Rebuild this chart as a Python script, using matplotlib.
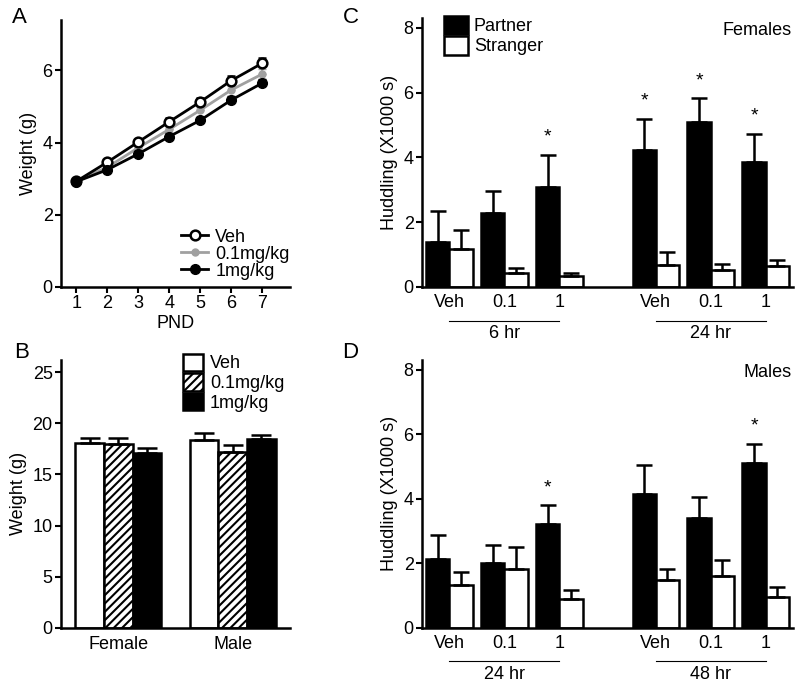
import numpy as np
import matplotlib
matplotlib.use('Agg')
import matplotlib.pyplot as plt
from matplotlib.transforms import blended_transform_factory

plt.rcParams['font.family'] = ['Liberation Sans', 'DejaVu Sans']
plt.rcParams['font.size'] = 13
plt.rcParams['hatch.linewidth'] = 1.5

# ---- Panel A: weight by PND ----
pnd = [1, 2, 3, 4, 5, 6, 7]
veh_w = [2.93, 3.46, 4.02, 4.58, 5.13, 5.72, 6.20]
low_w = [2.93, 3.32, 3.86, 4.37, 4.90, 5.46, 5.90]
high_w = [2.92, 3.25, 3.69, 4.17, 4.62, 5.18, 5.65]
veh_w_err = [0.04, 0.06, 0.08, 0.09, 0.10, 0.12, 0.15]
low_w_err = [0.04, 0.06, 0.08, 0.09, 0.10, 0.12, 0.13]
high_w_err = [0.04, 0.06, 0.08, 0.09, 0.10, 0.11, 0.12]

# ---- Panel B: adult weight ----
sexes = ['Female', 'Male']
b_veh = [18.1, 18.4]
b_low = [18.0, 17.2]
b_high = [17.1, 18.5]
b_veh_err = [0.5, 0.7]
b_low_err = [0.6, 0.7]
b_high_err = [0.5, 0.4]

# ---- Panels C/D: huddling ----
dose_labels = ['Veh', '0.1', '1', 'Veh', '0.1', '1']
pair_pos = [0, 1, 2, 3.75, 4.75, 5.75]

c_partner = [1.38, 2.28, 3.10, 4.23, 5.08, 3.85]
c_partner_err = [0.95, 0.68, 0.98, 0.96, 0.74, 0.87]
c_stranger = [1.17, 0.42, 0.33, 0.68, 0.52, 0.65]
c_stranger_err = [0.60, 0.18, 0.09, 0.41, 0.19, 0.17]
c_stars = [2, 3, 4, 5]
c_time = ['6 hr', '24 hr']

d_partner = [2.15, 2.02, 3.23, 4.15, 3.40, 5.11]
d_partner_err = [0.74, 0.56, 0.57, 0.90, 0.67, 0.59]
d_stranger = [1.32, 1.82, 0.89, 1.48, 1.60, 0.96]
d_stranger_err = [0.41, 0.68, 0.28, 0.34, 0.52, 0.30]
d_stars = [2, 5]
d_time = ['24 hr', '48 hr']

fig = plt.figure(figsize=(8, 6.91), dpi=100)

def style_axes(ax):
    for s in ['top', 'right']:
        ax.spines[s].set_visible(False)
    for s in ['left', 'bottom']:
        ax.spines[s].set_linewidth(1.8)
    ax.tick_params(direction='out', length=4, width=1.5, labelsize=13, pad=2)

# Panel A
axA = fig.add_axes([0.07625, 0.5847, 0.2863, 0.3864])
style_axes(axA)
axA.errorbar(pnd, veh_w, yerr=[np.zeros(7), veh_w_err], color='black', lw=2,
             marker='o', ms=7, mfc='white', mec='black', mew=1.8, capsize=3,
             elinewidth=1.5, label='Veh', zorder=3)
axA.errorbar(pnd, low_w, yerr=[np.zeros(7), low_w_err], color='#a0a0a0', lw=2,
             marker='o', ms=5, mfc='#a0a0a0', mec='#a0a0a0', capsize=3,
             elinewidth=1.5, label='0.1mg/kg', zorder=2)
axA.errorbar(pnd, high_w, yerr=[np.zeros(7), high_w_err], color='black', lw=2,
             marker='o', ms=7, mfc='black', mec='black', capsize=3,
             elinewidth=1.5, label='1mg/kg', zorder=4)
axA.set_xlim(0.5, 7.9)
axA.set_ylim(0, 7.4)
axA.set_xticks(pnd)
axA.set_yticks([0, 2, 4, 6])
axA.set_xlabel('PND', fontsize=13, labelpad=2)
axA.set_ylabel('Weight (g)', fontsize=13)
handles, labels = axA.get_legend_handles_labels()
axA.legend([h[0] for h in handles], labels, loc='lower right', frameon=False,
           fontsize=13, handlelength=1.5, handletextpad=0.4, labelspacing=0.0,
           borderaxespad=0.0, bbox_to_anchor=(1.03, 0.0))

# Panel B
axB = fig.add_axes([0.07625, 0.0912, 0.2863, 0.388])
style_axes(axB)
xb = np.arange(len(sexes))
w = 0.25
axB.bar(xb - w, b_veh, w, color='white', edgecolor='black', lw=1.8, label='Veh')
axB.bar(xb, b_low, w, color='white', edgecolor='black', lw=1.8, hatch='////',
        label='0.1mg/kg')
axB.bar(xb + w, b_high, w, color='black', edgecolor='black', lw=1.8, label='1mg/kg')
for off, vals, errs in [(-w, b_veh, b_veh_err), (0, b_low, b_low_err), (w, b_high, b_high_err)]:
    axB.errorbar(xb + off, vals, yerr=[np.zeros(2), errs], fmt='none', ecolor='black',
                 elinewidth=1.8, capsize=7, capthick=1.8)
axB.set_xlim(-0.5, 1.5)
axB.set_ylim(0, 26.2)
axB.set_yticks([0, 5, 10, 15, 20, 25])
axB.set_xticks(xb)
axB.set_xticklabels(sexes)
axB.tick_params(axis='x', length=0, pad=6)
axB.set_ylabel('Weight (g)', fontsize=13)
axB.legend(loc='upper left', frameon=False, fontsize=13, handlelength=1.1,
           handleheight=1.1, handletextpad=0.4, labelspacing=0.05,
           borderaxespad=0.0, bbox_to_anchor=(0.5, 1.05))


def huddle_panel(rect, partner, p_err, stranger, s_err, stars, times, title, legend):
    ax = fig.add_axes(rect)
    style_axes(ax)
    x = np.array(pair_pos)
    bw = 0.42
    ax.bar(x - bw / 2, partner, bw, color='black', edgecolor='black', lw=1.8,
           label='Partner')
    ax.bar(x + bw / 2, stranger, bw, color='white', edgecolor='black', lw=1.8,
           label='Stranger')
    ax.errorbar(x - bw / 2, partner, yerr=[np.zeros(len(x)), p_err], fmt='none',
                ecolor='black', elinewidth=1.8, capsize=6, capthick=1.8)
    ax.errorbar(x + bw / 2, stranger, yerr=[np.zeros(len(x)), s_err], fmt='none',
                ecolor='black', elinewidth=1.8, capsize=6, capthick=1.8)
    for i in stars:
        ax.text(x[i] - bw / 2, partner[i] + p_err[i] + 0.28, '*', ha='center',
                va='bottom', fontsize=14)
    ax.set_xlim(-0.5, 6.25)
    ax.set_ylim(0, 8.3)
    ax.set_yticks([0, 2, 4, 6, 8])
    ax.set_xticks(x)
    ax.set_xticklabels(dose_labels)
    ax.tick_params(axis='x', length=0, pad=5)
    ax.set_ylabel('Huddling (X1000 s)', fontsize=13)
    ax.text(0.995, 0.985, title, transform=ax.transAxes, ha='right', va='top',
            fontsize=13)
    tr = blended_transform_factory(ax.transData, ax.transAxes)
    for g, lab in enumerate(times):
        x0, x1 = x[3 * g], x[3 * g + 2]
        ax.plot([x0, x1], [-0.125, -0.125], color='black', lw=0.8,
                transform=tr, clip_on=False)
        ax.text((x0 + x1) / 2, -0.14, lab, transform=tr, ha='center', va='top',
                fontsize=13)
    if legend:
        ax.legend(loc='upper left', frameon=False, fontsize=13, handlelength=1.35,
                  handleheight=1.2, handletextpad=0.3, labelspacing=0.05,
                  borderaxespad=0.0, bbox_to_anchor=(0.04, 1.035))
    return ax


huddle_panel([0.5275, 0.5847, 0.4638, 0.3893], c_partner, c_partner_err,
             c_stranger, c_stranger_err, c_stars, c_time, 'Females', True)
huddle_panel([0.5275, 0.0912, 0.4638, 0.388], d_partner, d_partner_err,
             d_stranger, d_stranger_err, d_stars, d_time, 'Males', False)

for lab, (px, py) in {'A': (0.024, 0.975), 'B': (0.027, 0.49),
                      'C': (0.438, 0.975), 'D': (0.438, 0.49)}.items():
    fig.text(px, py, lab, fontsize=16, ha='center', va='center')

fig.savefig('out.png', dpi=100)
